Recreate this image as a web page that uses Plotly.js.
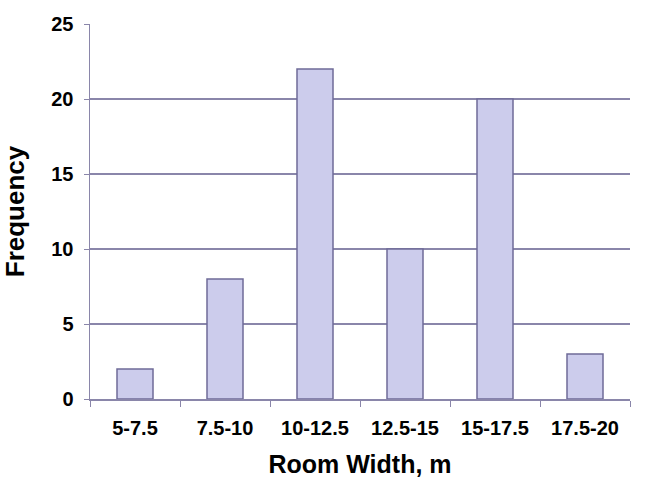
<!DOCTYPE html>
<html><head><meta charset="utf-8">
<script src="https://cdn.plot.ly/plotly-3.0.1.min.js"></script>
<style>html,body{margin:0;padding:0;background:#fff}#chart{width:651px;height:496px}</style>
</head><body><div id="chart"></div>
<script>
const categories = ["5-7.5","7.5-10","10-12.5","12.5-15","15-17.5","17.5-20"];
const frequency = [2, 8, 22, 10, 20, 3];
const yTicks = [0, 5, 10, 15, 20, 25];
const gridTicks = [5, 10, 15, 20];

const fam = "Arial, 'Liberation Sans', sans-serif";
const lineCol = "#8a86aa";

const data = [{
  type: "bar", x: categories, y: frequency,
  marker: {color: "#ccccec", line: {color: "#6f6b98", width: 1.5}},
  hoverinfo: "x+y"
}];

const layout = {
  width: 651, height: 496,
  margin: {l: 90, r: 21, t: 24, b: 97},
  paper_bgcolor: "#fff", plot_bgcolor: "#fff",
  showlegend: false, bargap: 0.6,
  font: {family: fam, color: "#000", weight: "bold"},
  xaxis: {
    type: "category", tickson: "boundaries",
    ticks: "outside", ticklen: 6, tickcolor: lineCol,
    showline: true, linecolor: lineCol, linewidth: 1.5,
    showgrid: false, ticklabelstandoff: 10,
    tickfont: {family: fam, size: 20, color: "#000", weight: "bold"},
    title: {text: "Room Width, m", font: {family: fam, size: 25, color: "#000", weight: "bold"}, standoff: 18}
  },
  yaxis: {
    range: [0, 25], tickvals: yTicks,
    ticks: "outside", ticklen: 5, tickcolor: lineCol,
    showline: true, linecolor: lineCol, linewidth: 1.5,
    showgrid: false, zeroline: false, ticklabelstandoff: 6,
    tickfont: {family: fam, size: 20, color: "#000", weight: "bold"},
    title: {text: "Frequency", font: {family: fam, size: 26, color: "#000", weight: "bold"}, standoff: 20}
  },
  yaxis2: {
    overlaying: "y", range: [0, 25], tickvals: gridTicks,
    showgrid: true, gridcolor: lineCol, gridwidth: 1.3,
    showticklabels: false, ticks: "", zeroline: false, showline: false
  }
};

Plotly.newPlot("chart", data.concat([{type: "scatter", x: [], y: [], yaxis: "y2", hoverinfo: "skip"}]), layout, {displayModeBar: false, staticPlot: true});
</script></body></html>
